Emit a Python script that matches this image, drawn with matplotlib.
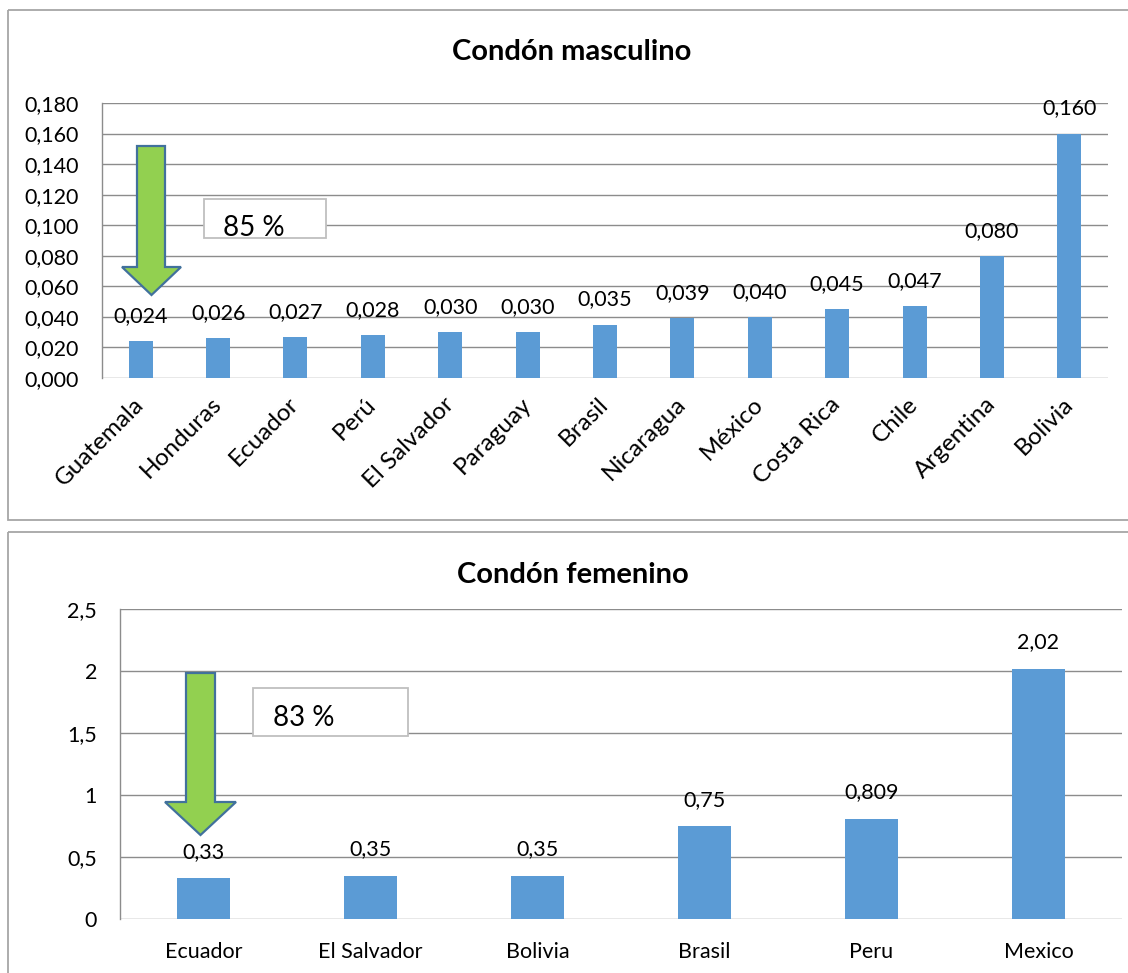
import matplotlib
matplotlib.use("Agg")
import matplotlib.pyplot as plt
from matplotlib.patches import Polygon, Rectangle
from matplotlib.ticker import FuncFormatter, MultipleLocator
from matplotlib.transforms import Affine2D

plt.rcParams['font.family'] = ['Lato', 'DejaVu Sans']

# Male condom prices
male_countries = ["Guatemala", "Honduras", "Ecuador", "Perú", "El Salvador", "Paraguay",
                  "Brasil", "Nicaragua", "México", "Costa Rica", "Chile", "Argentina", "Bolivia"]
male_values = [0.024, 0.026, 0.027, 0.028, 0.030, 0.030, 0.035, 0.039, 0.040, 0.045,
               0.047, 0.080, 0.160]
male_title = "Condón masculino"
male_note = "85 %"

# Female condom prices
female_countries = ["Ecuador", "El Salvador", "Bolivia", "Brasil", "Peru", "Mexico"]
female_values = [0.33, 0.35, 0.35, 0.75, 0.809, 2.02]
female_title = "Condón femenino"
female_note = "83 %"

W, H, DPI = 1128, 973, 100
BAR = "#5B9BD5"
GRID = "#8C8C8C"
FRAME = "#A6A6A6"
ARROW_FILL = "#92D050"
ARROW_EDGE = "#41719C"
FS = 15.5

fig = plt.figure(figsize=(W / DPI, H / DPI), dpi=DPI)
# pixel coordinates with the origin at the top-left corner
px = Affine2D().scale(1 / DPI, -1 / DPI).translate(0, H / DPI) + fig.dpi_scale_trans


def axes_at(left, top, right, bottom):
    return fig.add_axes([left / W, 1 - bottom / H, (right - left) / W, (bottom - top) / H])


def comma(s):
    return s.replace(".", ",")


def style(ax):
    ax.set_facecolor("none")
    for side in ("top", "right", "bottom"):
        ax.spines[side].set_visible(False)
    ax.spines["left"].set_color(GRID)
    ax.spines["left"].set_linewidth(1.0)
    ax.grid(axis="y", color=GRID, linewidth=1.0)
    ax.set_axisbelow(True)
    ax.tick_params(axis="both", length=0, labelsize=FS, colors="black")
    ax.tick_params(axis="y", pad=16.5)


def arrow(x0, x1, hx0, hx1, ytop, yneck, ytip):
    tipx = (hx0 + hx1) / 2
    pts = [(x0, ytop), (x1, ytop), (x1, yneck), (hx1, yneck), (tipx, ytip),
           (hx0, yneck), (x0, yneck)]
    fig.add_artist(Polygon(pts, closed=True, transform=px, facecolor=ARROW_FILL,
                           edgecolor=ARROW_EDGE, linewidth=1.6, zorder=5))


def note(x0, y0, x1, y1, tx, ty, text):
    fig.add_artist(Rectangle((x0, y0), x1 - x0, y1 - y0, transform=px, facecolor="white",
                             edgecolor="#BFBFBF", linewidth=1.3, zorder=5))
    fig.text(tx, ty, text, transform=px, fontsize=20, ha="left", va="center", zorder=6)


# panel frames
fig.add_artist(Rectangle((8, 10), 1130, 510, transform=px, fill=False,
                         edgecolor=FRAME, linewidth=1.3))
fig.add_artist(Rectangle((8, 531.5), 1130, 460, transform=px, fill=False,
                         edgecolor=FRAME, linewidth=1.3))

# ---- male condom chart ----
ax1 = axes_at(102, 103, 1108, 378)
style(ax1)
x1 = range(len(male_countries))
ax1.bar(x1, male_values, width=0.31, color=BAR, zorder=3)
ax1.set_xlim(-0.5, len(male_countries) - 0.5)
ax1.set_ylim(0, 0.18)
ax1.yaxis.set_major_locator(MultipleLocator(0.02))
ax1.yaxis.set_major_formatter(FuncFormatter(lambda v, p: comma(f"{v:.3f}")))
ax1.set_xticks(list(x1))
ax1.set_xticklabels(male_countries, rotation=45, ha="right", va="center",
                    rotation_mode="anchor", fontsize=17.5)
ax1.tick_params(axis="x", pad=16.5)
for i, v in zip(x1, male_values):
    ax1.annotate(comma(f"{v:.3f}"), (i, v), xytext=(0, 18), textcoords="offset points",
                 ha="center", va="center", fontsize=FS)
fig.text(572, 52, male_title, transform=px, fontsize=21, fontweight="bold",
         ha="center", va="center")

arrow(137, 165, 122, 181, 146, 267, 295)
note(204, 199, 326, 238, 223, 228, male_note)

# ---- female condom chart ----
ax2 = axes_at(120, 609, 1122, 919)
style(ax2)
x2 = range(len(female_countries))
ax2.bar(x2, female_values, width=0.315, color=BAR, zorder=3)
ax2.set_xlim(-0.5, len(female_countries) - 0.5)
ax2.set_ylim(0, 2.5)
ax2.yaxis.set_major_locator(MultipleLocator(0.5))
ax2.yaxis.set_major_formatter(FuncFormatter(lambda v, p: comma(f"{v:g}")))
ax2.set_xticks(list(x2))
ax2.set_xticklabels(female_countries, va="center")
ax2.tick_params(axis="x", pad=23.5)
for i, v in zip(x2, female_values):
    ax2.annotate(comma(f"{v:g}"), (i, v), xytext=(0, 19), textcoords="offset points",
                 ha="center", va="center", fontsize=FS)
fig.text(573, 575, female_title, transform=px, fontsize=21, fontweight="bold",
         ha="center", va="center")

arrow(186, 215, 165, 236, 673, 802, 835)
note(253, 688, 408, 736, 273, 718, female_note)

fig.savefig("out.png", dpi=DPI)
